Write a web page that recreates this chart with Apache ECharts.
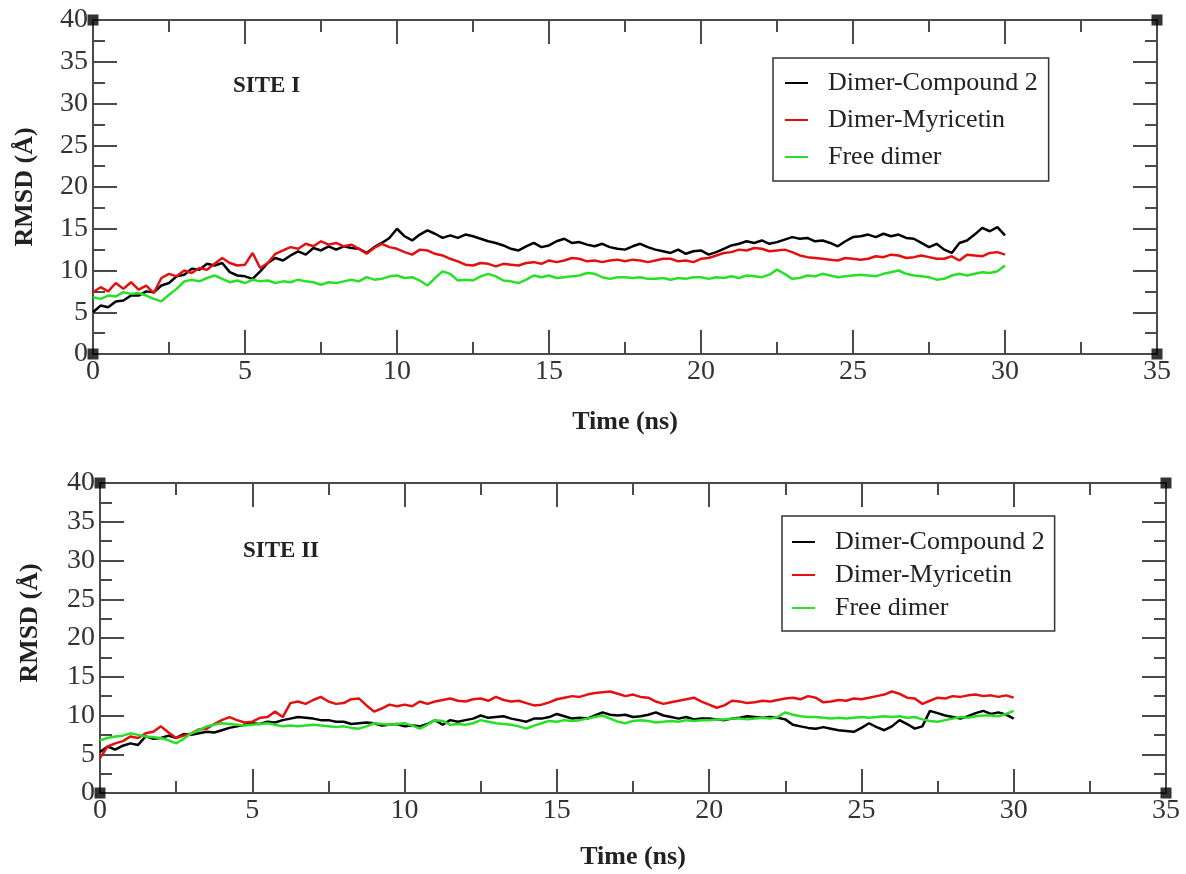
<!DOCTYPE html>
<html>
<head>
<meta charset="utf-8">
<script src="https://cdn.jsdelivr.net/npm/echarts@6/dist/echarts.min.js"></script>
<style>
html,body{margin:0;padding:0;background:#fff;}
#chart{width:1186px;height:874px;}
</style>
</head>
<body>
<div id="chart"></div>
<script>
// sampling step of the trajectories (ns)
const timeStep = 0.25;
const seriesNames = ['Dimer-Compound 2', 'Dimer-Myricetin', 'Free dimer'];
const panelLabels = ['SITE I', 'SITE II'];
const xTicks = [0, 5, 10, 15, 20, 25, 30, 35];
const yTicks = [0, 5, 10, 15, 20, 25, 30, 35, 40];

// SITE I (one row per ns: t, t+0.25, t+0.5, t+0.75)
const topCompound2 = [
 5.0, 5.8, 5.6, 6.3,
 6.4, 7.0, 7.0, 7.5,
 7.4, 8.2, 8.5, 9.3,
 9.5, 10.2, 10.1, 10.8,
 10.6, 10.9, 9.8, 9.4,
 9.3, 9.0, 9.9, 10.9,
 11.5, 11.2, 11.8, 12.3,
 11.9, 12.7, 12.4, 12.9,
 12.5, 12.9, 12.7, 12.6,
 12.1, 12.8, 13.3, 13.9,
 15.0, 14.1, 13.6, 14.3,
 14.8, 14.4, 13.9, 14.2,
 13.9, 14.3, 14.1, 13.8,
 13.5, 13.3, 13.0, 12.6,
 12.4, 12.9, 13.3, 12.8,
 13.0, 13.5, 13.8, 13.3,
 13.4, 13.1, 12.9, 13.2,
 12.8, 12.6, 12.5, 12.9,
 13.2, 12.8, 12.5, 12.3,
 12.1, 12.5, 12.0, 12.3,
 12.4, 11.9, 12.2, 12.6,
 13.0, 13.2, 13.5, 13.3,
 13.6, 13.2, 13.4, 13.7,
 14.0, 13.8, 13.9, 13.5,
 13.6, 13.3, 12.9, 13.5,
 14.0, 14.1, 14.3, 14.0,
 14.4, 14.1, 14.3, 13.9,
 13.8, 13.3, 12.8, 13.2,
 12.5, 12.1, 13.3, 13.6,
 14.3, 15.1, 14.7, 15.2,
 14.2
];
const topMyricetin = [
 7.4, 8.0, 7.5, 8.5,
 7.8, 8.6, 7.7, 8.2,
 7.3, 9.1, 9.6, 9.3,
 10.0, 9.7, 10.3, 10.1,
 10.8, 11.5, 10.9, 10.6,
 10.7, 12.1, 10.3, 10.9,
 12.0, 12.4, 12.8, 12.6,
 13.2, 12.9, 13.5, 13.1,
 13.3, 12.9, 13.1, 12.6,
 12.0, 12.7, 13.2, 12.8,
 12.6, 12.2, 11.9, 12.5,
 12.4, 12.0, 11.8, 11.4,
 11.1, 10.7, 10.6, 10.9,
 10.8, 10.5, 10.8, 10.7,
 10.6, 10.9, 11.0, 10.8,
 11.2, 11.0, 11.2, 11.5,
 11.4, 11.1, 11.2, 11.0,
 11.2, 11.3, 11.1, 11.3,
 11.2, 11.0, 11.2, 11.4,
 11.4, 11.1, 11.2, 11.0,
 11.4, 11.5, 11.8, 12.1,
 12.2, 12.5, 12.4, 12.7,
 12.6, 12.3, 12.4, 12.5,
 12.2, 11.8, 11.6, 11.5,
 11.4, 11.3, 11.2, 11.5,
 11.4, 11.3, 11.4, 11.7,
 11.6, 11.9, 11.8, 11.5,
 11.6, 11.8, 11.6, 11.4,
 11.4, 11.7, 11.2, 11.9,
 11.8, 11.7, 12.1, 12.2,
 11.9
];
const topFree = [
 6.8, 6.6, 7.0, 6.9,
 7.4, 7.2, 7.3, 7.0,
 6.6, 6.3, 7.1, 7.8,
 8.7, 8.9, 8.7, 9.1,
 9.4, 9.0, 8.6, 8.8,
 8.5, 8.9, 8.7, 8.8,
 8.5, 8.7, 8.6, 8.9,
 8.7, 8.6, 8.3, 8.6,
 8.5, 8.7, 8.9, 8.7,
 9.2, 8.9, 9.0, 9.3,
 9.4, 9.1, 9.2, 8.8,
 8.2, 9.1, 9.9, 9.6,
 8.8, 8.9, 8.8, 9.3,
 9.6, 9.3, 8.8, 8.7,
 8.5, 8.9, 9.4, 9.2,
 9.4, 9.1, 9.2, 9.3,
 9.4, 9.7, 9.6, 9.2,
 9.0, 9.2, 9.2, 9.1,
 9.2, 9.0, 9.0, 9.1,
 8.9, 9.1, 9.0, 9.2,
 9.2, 9.0, 9.2, 9.1,
 9.3, 9.1, 9.4, 9.3,
 9.2, 9.5, 10.1, 9.6,
 9.0, 9.1, 9.4, 9.3,
 9.6, 9.4, 9.2, 9.3,
 9.4, 9.5, 9.4, 9.3,
 9.6, 9.8, 10.0, 9.6,
 9.4, 9.3, 9.2, 8.9,
 9.0, 9.4, 9.6, 9.4,
 9.6, 9.8, 9.7, 9.9,
 10.6
];

// SITE II
const bottomCompound2 = [
 5.3, 6.0, 5.6, 6.1,
 6.4, 6.2, 7.3, 7.0,
 7.1, 7.4, 7.1, 7.6,
 7.5, 7.7, 7.9, 7.8,
 8.1, 8.4, 8.6, 8.8,
 9.0, 8.9, 9.2, 9.1,
 9.4, 9.6, 9.8, 9.7,
 9.6, 9.4, 9.4, 9.2,
 9.2, 8.9, 9.0, 9.1,
 9.0, 8.7, 8.8, 8.9,
 8.6, 8.7, 8.6, 8.9,
 9.4, 8.8, 9.4, 9.2,
 9.4, 9.6, 10.0, 9.7,
 9.8, 9.9, 9.6, 9.4,
 9.2, 9.6, 9.6, 9.8,
 10.2, 9.9, 9.6, 9.7,
 9.6, 10.0, 10.4, 10.1,
 10.0, 10.1, 9.8, 9.9,
 10.1, 10.4, 10.0, 9.8,
 9.6, 9.8, 9.5, 9.6,
 9.6, 9.5, 9.4, 9.6,
 9.7, 9.9, 9.8, 9.7,
 9.8, 9.7, 9.5, 8.8,
 8.6, 8.4, 8.3, 8.5,
 8.3, 8.1, 8.0, 7.9,
 8.4, 9.0, 8.5, 8.1,
 8.6, 9.4, 8.9, 8.3,
 8.6, 10.6, 10.3, 10.0,
 9.8, 9.6, 9.9, 10.3,
 10.6, 10.2, 10.4, 10.1,
 9.6
];
const bottomMyricetin = [
 4.5, 6.0, 6.4, 6.7,
 7.3, 7.1, 7.7, 7.9,
 8.6, 7.8, 7.1, 7.4,
 7.7, 8.2, 8.3, 8.9,
 9.4, 9.8, 9.4, 9.1,
 9.2, 9.7, 9.8, 10.5,
 9.8, 11.6, 11.8, 11.5,
 12.0, 12.4, 11.8, 11.5,
 11.6, 12.1, 12.2, 11.3,
 10.5, 10.9, 11.4, 11.2,
 11.4, 11.2, 11.8, 11.5,
 11.8, 12.0, 12.2, 11.9,
 11.8, 12.1, 12.2, 11.9,
 12.4, 12.0, 11.8, 11.9,
 11.6, 11.3, 11.4, 11.7,
 12.1, 12.3, 12.5, 12.4,
 12.7, 12.9, 13.0, 13.1,
 12.8, 12.5, 12.7, 12.4,
 12.3, 11.8, 11.5, 11.7,
 11.9, 12.1, 12.3, 11.8,
 11.4, 11.0, 11.3, 11.9,
 11.8, 11.6, 11.7, 11.9,
 11.8, 12.0, 12.2, 12.3,
 12.1, 12.5, 12.3, 11.7,
 11.8, 12.0, 11.9, 12.2,
 12.1, 12.3, 12.5, 12.7,
 13.1, 12.8, 12.3, 12.2,
 11.5, 11.9, 12.3, 12.2,
 12.5, 12.4, 12.6, 12.7,
 12.5, 12.6, 12.4, 12.6,
 12.3
];
const bottomFree = [
 6.8, 7.1, 7.3, 7.4,
 7.7, 7.5, 7.3, 7.2,
 7.1, 6.8, 6.4, 7.0,
 7.7, 8.1, 8.6, 8.8,
 9.0, 8.9, 8.8, 8.7,
 8.8, 8.9, 9.0, 8.8,
 8.6, 8.7, 8.6, 8.7,
 8.8, 8.7, 8.6, 8.5,
 8.6, 8.4, 8.3, 8.6,
 9.0, 8.9, 8.8, 8.9,
 9.0, 8.7, 8.3, 8.8,
 9.4, 9.3, 8.8, 8.9,
 8.8, 9.0, 9.4, 9.2,
 9.0, 8.9, 8.8, 8.6,
 8.3, 8.7, 9.0, 9.3,
 9.2, 9.4, 9.3, 9.4,
 9.6, 9.8, 10.0, 9.6,
 9.2, 9.0, 9.3, 9.4,
 9.3, 9.1, 9.2, 9.3,
 9.2, 9.4, 9.3, 9.4,
 9.4, 9.5, 9.5, 9.6,
 9.6, 9.5, 9.6, 9.7,
 9.6, 9.8, 10.4, 10.1,
 9.9, 9.8, 9.8, 9.7,
 9.6, 9.7, 9.6, 9.7,
 9.8, 9.7, 9.8, 9.9,
 9.8, 9.9, 9.7, 9.8,
 9.5, 9.3, 9.2, 9.4,
 9.6, 9.8, 9.7, 9.9,
 10.0, 10.0, 9.9, 10.2,
 10.6
];

const colors = ['#000000', '#e41010', '#28e028'];
const serif = '"Liberation Serif", "DejaVu Serif", serif';
const axisColor = '#4a4a4a';

function toPairs(values) {
  return values.map((v, i) => [i * timeStep, v]);
}

const panels = [
  { grid: { left: 93, top: 20, width: 1064, height: 334 }, data: [topCompound2, topMyricetin, topFree],
    xNameGap: 55, yNameGap: 55, yNamePad: [0, 0, 0, 0],
    legend: { left: 773, top: 58, padding: [11, 11, 10, 12], itemGap: 9 },
    label: { left: 233, top: 75 } },
  { grid: { left: 100, top: 483, width: 1066, height: 310 }, data: [bottomCompound2, bottomMyricetin, bottomFree],
    xNameGap: 51, yNameGap: 57, yNamePad: [0, 0, 0, 30],
    legend: { left: 782, top: 516, padding: [12, 10, 9, 10], itemGap: 5 },
    label: { left: 243, top: 540 } }
];

const xMin = xTicks[0], xMax = xTicks[xTicks.length - 1];
const yMin = yTicks[0], yMax = yTicks[yTicks.length - 1];
const xInt = xTicks[1] - xTicks[0], yInt = yTicks[1] - yTicks[0];

const grids = [], xAxes = [], yAxes = [], series = [], legends = [], titles = [];

panels.forEach((p, pi) => {
  grids.push(Object.assign({ containLabel: false }, p.grid));
  const tickCommon = {
    axisLine: { show: true, onZero: false, lineStyle: { color: axisColor, width: 2 } },
    axisTick: { show: true, inside: true, length: 24, lineStyle: { color: axisColor, width: 2 } },
    minorTick: { show: true, splitNumber: 2, length: 12, lineStyle: { color: axisColor, width: 2 } },
    splitLine: { show: false }
  };
  xAxes.push(Object.assign({
    type: 'value', gridIndex: pi, position: 'bottom', min: xMin, max: xMax, interval: xInt,
    name: 'Time (ns)', nameLocation: 'middle', nameGap: p.xNameGap,
    nameTextStyle: { fontFamily: serif, fontWeight: 'bold', fontSize: 26, color: '#222' },
    axisLabel: { show: true, margin: 4, fontFamily: serif, fontSize: 28, color: '#333' }
  }, tickCommon));
  xAxes.push(Object.assign({
    type: 'value', gridIndex: pi, position: 'top', min: xMin, max: xMax, interval: xInt,
    axisLabel: { show: false }
  }, tickCommon));
  yAxes.push(Object.assign({
    type: 'value', gridIndex: pi, position: 'left', min: yMin, max: yMax, interval: yInt,
    name: 'RMSD (Å)', nameLocation: 'middle', nameGap: p.yNameGap, nameRotate: 90,
    nameTextStyle: { fontFamily: serif, fontWeight: 'bold', fontSize: 26, color: '#222', padding: p.yNamePad },
    axisLabel: { show: true, margin: 5, fontFamily: serif, fontSize: 28, color: '#333' }
  }, tickCommon));
  yAxes.push(Object.assign({
    type: 'value', gridIndex: pi, position: 'right', min: yMin, max: yMax, interval: yInt,
    axisLabel: { show: false }
  }, tickCommon));

  p.data.forEach((vals, si) => {
    series.push({
      type: 'line', name: seriesNames[si], xAxisIndex: pi * 2, yAxisIndex: pi * 2,
      data: toPairs(vals), showSymbol: false, symbol: 'none', smooth: false,
      lineStyle: { color: colors[si], width: 2.5 }, itemStyle: { color: colors[si] },
      animation: false, silent: true
    });
  });
  // corner markers of the frame
  series.push({
    type: 'scatter', name: 'frame corners', xAxisIndex: pi * 2, yAxisIndex: pi * 2,
    data: [[xMin, yMin], [xMin, yMax], [xMax, yMin], [xMax, yMax]],
    symbol: 'rect', symbolSize: 11, itemStyle: { color: '#000' }, clip: false,
    animation: false, silent: true, z: 5
  });

  legends.push({
    show: true, orient: 'vertical', left: p.legend.left, top: p.legend.top,
    padding: p.legend.padding, itemGap: p.legend.itemGap,
    data: seriesNames.map((n, i) => ({ name: n, icon: 'rect', itemStyle: { color: colors[i] } })),
    itemWidth: 23, itemHeight: 2,
    borderColor: '#333', borderWidth: 1.5, backgroundColor: '#fff',
    selectedMode: false,
    textStyle: { fontFamily: serif, fontSize: 26, color: '#222', lineHeight: 28, padding: [0, 0, 0, 15] }
  });

  titles.push({
    text: panelLabels[pi], left: p.label.left, top: p.label.top, padding: 0,
    textStyle: { fontFamily: serif, fontWeight: 'bold', fontSize: 23, color: '#222' }
  });
});

const chart = echarts.init(document.getElementById('chart'), null, { renderer: 'canvas' });
chart.setOption({
  backgroundColor: '#ffffff',
  animation: false,
  title: titles,
  legend: legends,
  grid: grids,
  xAxis: xAxes,
  yAxis: yAxes,
  series: series
});
</script>
</body>
</html>
